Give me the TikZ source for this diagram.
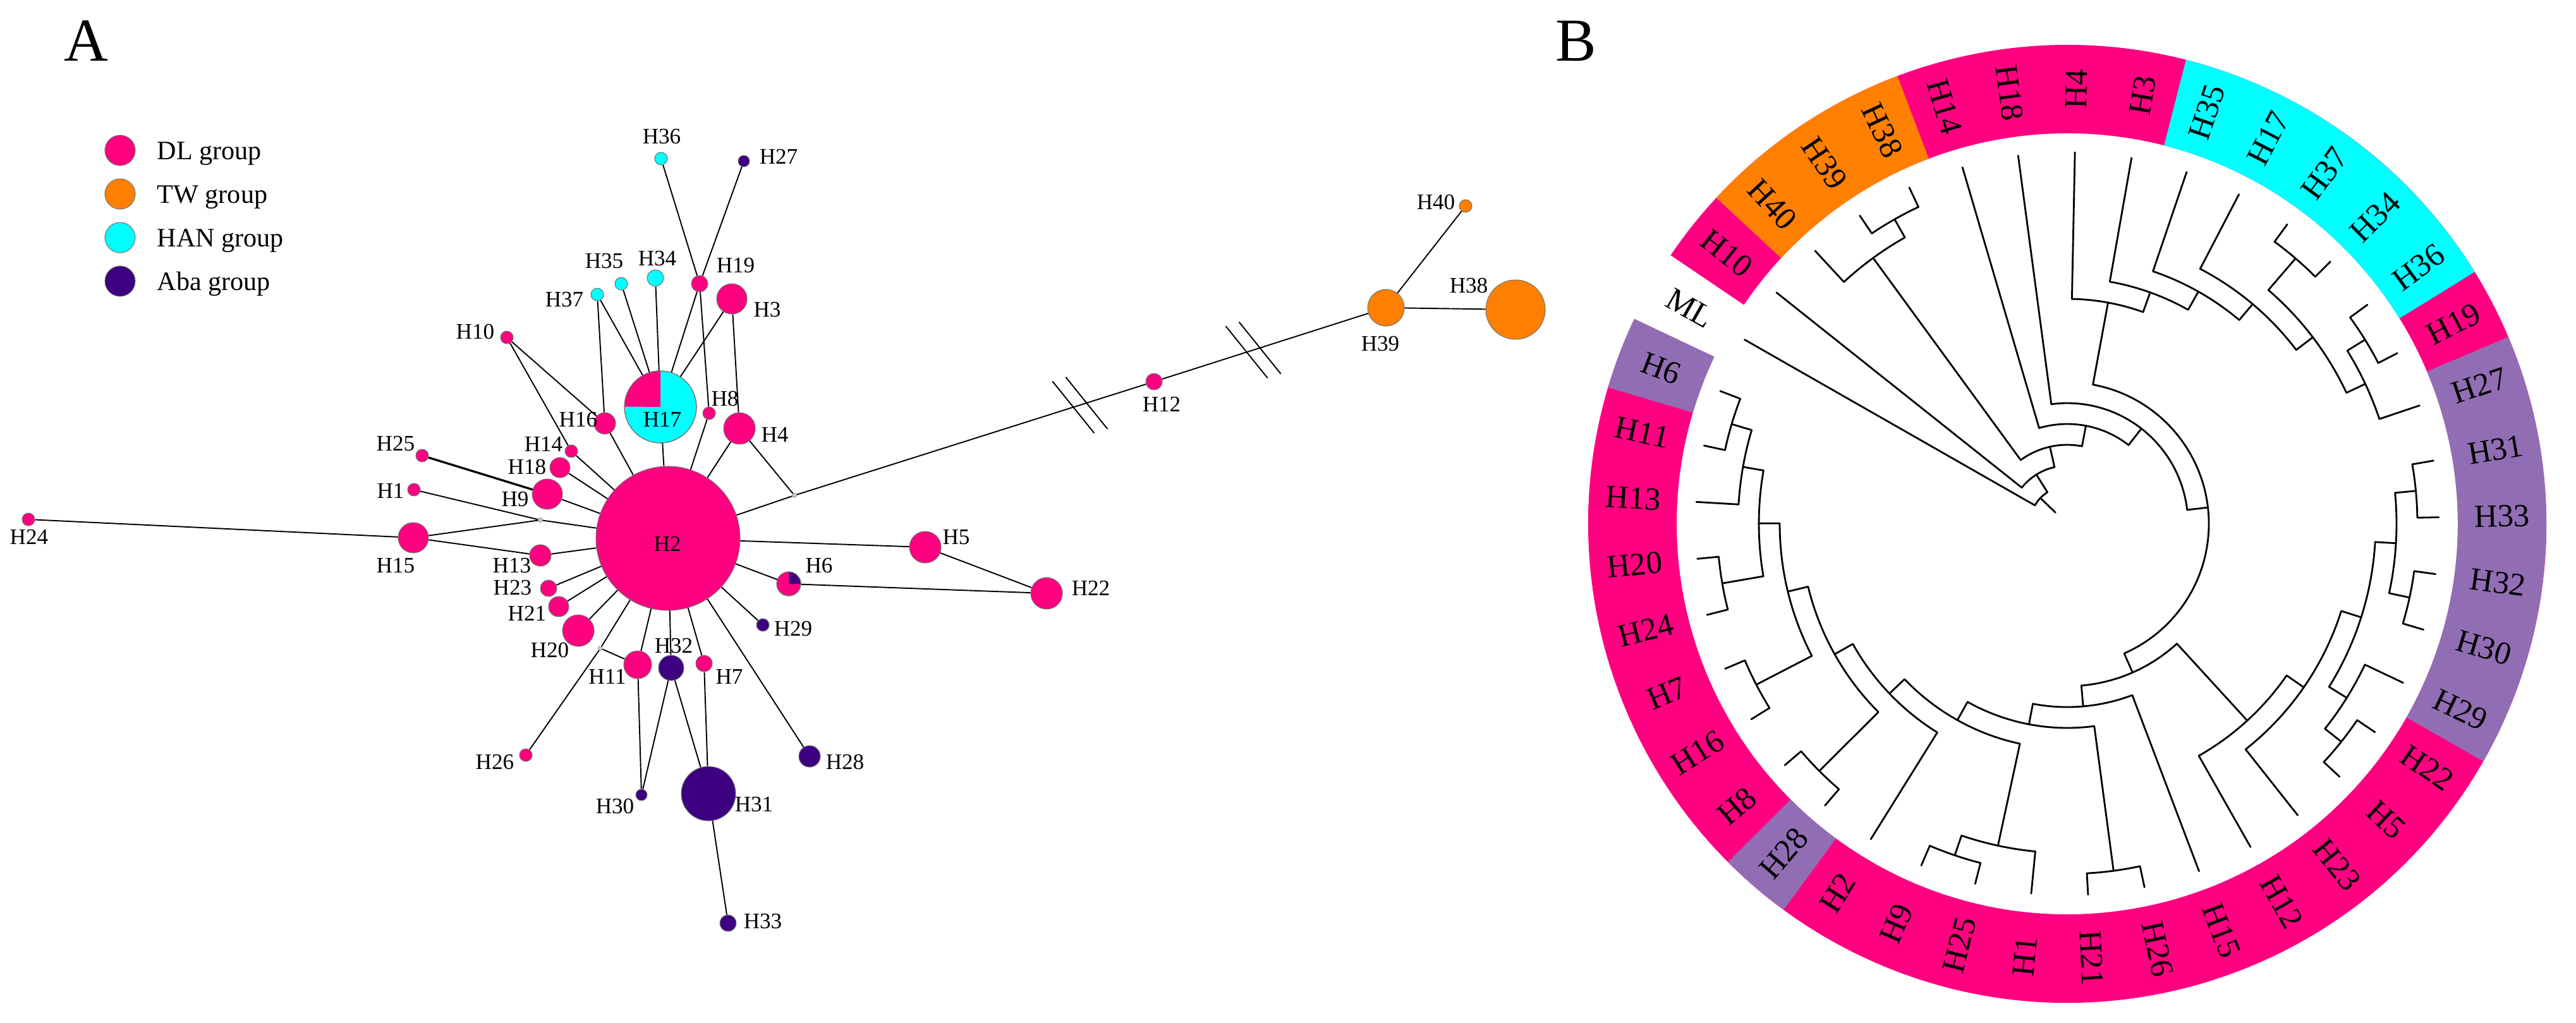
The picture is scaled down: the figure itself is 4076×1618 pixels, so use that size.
\documentclass[tikz,border=0pt]{standalone}
\usepackage{fontspec}
\setmainfont{Liberation Serif}
\usetikzlibrary{calc}
\definecolor{dl}{RGB}{255,0,128}
\definecolor{tw}{RGB}{255,128,0}
\definecolor{han}{RGB}{0,255,255}
\definecolor{aba}{RGB}{60,0,128}
\definecolor{ringpurple}{RGB}{145,110,180}
% ring sector: colour, start angle, end angle
\newcommand\ringsec[3]{\fill[#1] (#2:61.8mm) -- (#2:75.8mm) arc[start angle=#2,end angle=#3,radius=75.8mm] -- (#3:61.8mm) arc[start angle=#3,end angle=#2,radius=61.8mm] -- cycle;}
% tip branch: angle, parent radius
\newcommand\ttip[2]{\draw[treeline] (#1:#2mm) -- (#1:58.8mm);}
% internal node: angle, radius, parent radius, arc start, arc end
\newcommand\tnode[5]{\draw[treeline] (#1:#3mm) -- (#1:#2mm);\draw[treeline] (#4:#2mm) arc[start angle=#4,end angle=#5,radius=#2mm];}
\begin{document}
\begin{tikzpicture}[x=0.1mm,y=-0.1mm,
  hap/.style={circle,inner sep=0pt,draw=black!55,line width=0.3pt},
  junc/.style={circle,inner sep=0pt,minimum size=0.7mm,fill=gray!40,draw=gray,line width=0.2pt},
  lab/.style={font=\fontsize{10}{12}\selectfont,inner sep=0pt},
  edge/.style={line width=0.55pt,black},
  treeline/.style={line width=0.8pt,line cap=round,black},
  ringlab/.style={font=\fontsize{14.5}{16}\selectfont,inner sep=0pt},
  panel/.style={font=\fontsize{27.5}{30}\selectfont,inner sep=0pt,anchor=base},
  legtext/.style={font=\fontsize{12}{14}\selectfont,inner sep=0pt,anchor=base west}
]
\useasboundingbox (0,0) rectangle (4076,1618);

% ---------------- Panel A ----------------
\node[panel] (labA) at (136,97) {A};
\node[panel] (labB) at (2494,97) {B};

% legend
\node[hap,fill=dl,minimum size=4.8mm] (legDL) at (190,238) {};
\node[hap,fill=tw,minimum size=4.8mm] (legTW) at (190,307) {};
\node[hap,fill=han,minimum size=4.8mm] (legHAN) at (190,376) {};
\node[hap,fill=aba,minimum size=4.8mm] (legABA) at (190,445) {};
\node[legtext] (tDL) at (248,252) {DL group};
\node[legtext] (tTW) at (248,321) {TW group};
\node[legtext] (tHAN) at (248,390) {HAN group};
\node[legtext] (tABA) at (248,459) {Aba group};

% haplotype nodes
\node[hap,fill=han,minimum size=2.0mm] (H36) at (1046,251) {};
\node[hap,fill=aba,minimum size=1.8mm] (H27) at (1177,255) {};
\node[hap,fill=han,minimum size=2.0mm] (H35) at (983,449) {};
\node[hap,fill=han,minimum size=2.6mm] (H34) at (1037,440) {};
\node[hap,fill=han,minimum size=2.0mm] (H37) at (945,466) {};
\node[hap,fill=dl,minimum size=2.6mm] (H19) at (1107,449) {};
\node[hap,fill=dl,minimum size=4.8mm] (H3) at (1158,473) {};
\node[hap,fill=dl,minimum size=2.0mm] (H10) at (802,534) {};
\node[hap,fill=han,minimum size=11.4mm] (H17) at (1045,644) {};
\node[hap,fill=dl,minimum size=2.0mm] (H8) at (1122,654) {};
\node[hap,fill=dl,minimum size=3.4mm] (H16) at (957,670) {};
\node[hap,fill=dl,minimum size=5.0mm] (H4) at (1170,678) {};
\node[hap,fill=dl,minimum size=2.0mm] (H25) at (668,721) {};
\node[hap,fill=dl,minimum size=2.0mm] (H14) at (904,714) {};
\node[hap,fill=dl,minimum size=3.2mm] (H18) at (886,740) {};
\node[hap,fill=dl,minimum size=2.0mm] (H1) at (655,775) {};
\node[hap,fill=dl,minimum size=4.8mm] (H9) at (866,782) {};
\node[hap,fill=dl,minimum size=22.8mm] (H2) at (1057,852) {};
\node[hap,fill=dl,minimum size=2.0mm] (H24) at (45,822) {};
\node[hap,fill=dl,minimum size=4.8mm] (H15) at (654,851) {};
\node[hap,fill=dl,minimum size=3.4mm] (H13) at (855,879) {};
\node[hap,fill=dl,minimum size=3.8mm] (H6) at (1248,924) {};
\node[hap,fill=dl,minimum size=2.6mm] (H23) at (868,931) {};
\node[hap,fill=dl,minimum size=3.2mm] (H21) at (884,960) {};
\node[hap,fill=aba,minimum size=2.0mm] (H29) at (1207,989) {};
\node[hap,fill=dl,minimum size=5.0mm] (H20) at (915,998) {};
\node[hap,fill=dl,minimum size=4.4mm] (H11) at (1009,1052) {};
\node[hap,fill=aba,minimum size=4.0mm] (H32) at (1062,1057) {};
\node[hap,fill=dl,minimum size=2.6mm] (H7) at (1114,1050) {};
\node[hap,fill=dl,minimum size=2.0mm] (H26) at (832,1195) {};
\node[hap,fill=aba,minimum size=3.4mm] (H28) at (1281,1197) {};
\node[hap,fill=aba,minimum size=1.8mm] (H30) at (1015,1258) {};
\node[hap,fill=aba,minimum size=8.6mm] (H31) at (1121,1256) {};
\node[hap,fill=aba,minimum size=2.6mm] (H33) at (1152,1461) {};
\node[hap,fill=dl,minimum size=5.0mm] (H5) at (1464,866) {};
\node[hap,fill=dl,minimum size=5.0mm] (H22) at (1656,939) {};
\node[hap,fill=dl,minimum size=2.6mm] (H12) at (1826,604) {};
\node[hap,fill=tw,minimum size=5.8mm] (H39) at (2193,487) {};
\node[hap,fill=tw,minimum size=9.4mm] (H38) at (2398,490) {};
\node[hap,fill=tw,minimum size=2.0mm] (H40) at (2319,326) {};
\node[junc] (J1) at (1257,784) {};
\node[junc] (J2) at (855,823) {};
\node[junc] (J3) at (950,1026) {};

% pie sectors
\fill[dl] (H17.center) -- (H17.north) arc[start angle=90,end angle=180,radius=5.7mm] -- cycle;
\draw[black!55,line width=0.3pt] (H17.center) circle[radius=5.7mm];
\fill[aba] (H6.center) -- (H6.east) arc[start angle=0,end angle=90,radius=1.9mm] -- cycle;
\draw[black!55,line width=0.3pt] (H6.center) circle[radius=1.9mm];

% connectors
\foreach \a/\b in {H36/H19,H27/H19,H19/H17,H19/H8,H3/H17,H3/H4,H34/H17,H35/H17,H37/H17,H37/H16,
  H10/H16,H10/H14,H14/H2,H16/H2,H17/H2,H8/H2,H4/H2,H4/J1,J1/H2,J1/H12,H12/H39,H39/H38,H39/H40,
  H18/H2,H9/H2,H1/J2,J2/H2,J2/H15,H15/H24,H15/H13,H13/H2,H23/H2,H21/H2,H20/H2,
  H26/J3,J3/H2,J3/H11,H11/H2,H11/H30,H32/H2,H32/H30,H32/H31,H7/H2,H7/H31,H28/H2,H29/H2,
  H6/H2,H6/H22,H2/H5,H5/H22,H31/H33}
  {\draw[edge] (\a) -- (\b);}
\draw[edge,line width=0.95pt] (H25) -- (H9);

% break marks
\coordinate (brk1) at ($(J1)!0.794!(H12)$);
\coordinate (brk2) at ($(H12)!0.428!(H39)$);
\foreach \c in {brk1,brk2}{
  \draw[edge] ($(\c)+(-10.5,3.3)+(-33,-41)$) -- ++(66,82);
  \draw[edge] ($(\c)+(10.5,-3.3)+(-33,-41)$) -- ++(66,82);
}

% node labels
\foreach \n/\x/\y in {H36/1047/216,H27/1232/248,H35/956/413,H34/1040/409,H19/1164/420,H37/893/474,
  H3/1214/490,H10/752/525,H8/1147/631,H16/915/664,H17/1048/664,H4/1226/688,H25/626/702,
  H14/860/703,H18/834/739,H1/618/777,H9/815/790,H2/1056/861,H24/46/850,H15/626/895,H13/810/895,
  H6/1296/895,H23/811/930,H21/834/971,H29/1255/995,H20/870/1029,H32/1066/1022,H11/961/1071,
  H7/1154/1071,H26/783/1206,H30/973/1276,H31/1193/1273,H28/1337/1206,H33/1207/1458,
  H12/1838/640,H39/2184/544,H38/2324/452,H40/2272/320,H5/1513/850,H22/1726/931}
  {\node[lab] (l\n) at (\x,\y) {\n};}

% ---------------- Panel B ----------------
\begin{scope}[shift={(3271,829)}]
  \ringsec{dl}{-205.33}{145.89}
  \ringsec{tw}{110.77}{137.11}
  \ringsec{han}{31.74}{75.65}
  \ringsec{ringpurple}{-29.72}{22.96}
  \ringsec{ringpurple}{-135.09}{-126.31}
  \ringsec{ringpurple}{-205.33}{-196.55}
  \foreach \k/\n in {0/H10,1/H40,2/H39,3/H38,4/H14,5/H18,6/H4,7/H3,8/H35,9/H17,10/H37,11/H34,
    12/H36,13/H19,14/H27,15/H31,16/H33,17/H32,18/H30,19/H29,20/H22,21/H5,22/H23,23/H12,24/H15,
    25/H26,26/H21,27/H1,28/H25,29/H9,30/H2,31/H28,32/H8,33/H16,34/H7,35/H24,36/H20,37/H13,
    38/H11,39/H6,40/ML}{
    \pgfmathsetmacro\ang{141.5-8.7805*\k}
    \pgfmathsetmacro\rot{cos(\ang)<0 ? \ang-180 : \ang}
    \node[ringlab,rotate=\rot] (rl\k) at (\ang:68.8mm) {\n};
  }
  % tips
  \ttip{141.50}{9.2}\ttip{132.72}{52.1}\ttip{123.94}{55.4}\ttip{115.16}{55.4}
  \ttip{106.38}{15.8}\ttip{97.60}{19.1}\ttip{88.82}{35.6}\ttip{80.04}{38.9}
  \ttip{71.26}{42.2}\ttip{62.48}{45.5}\ttip{53.70}{55.4}\ttip{44.91}{55.4}
  \ttip{36.13}{55.4}\ttip{27.35}{55.4}\ttip{18.57}{52.1}\ttip{9.79}{55.4}
  \ttip{1.01}{55.4}\ttip{-7.77}{55.4}\ttip{-16.55}{55.4}\ttip{-25.33}{52.1}
  \ttip{-34.11}{55.4}\ttip{-42.89}{55.4}\ttip{-51.67}{45.5}\ttip{-60.45}{42.2}
  \ttip{-69.23}{29.0}\ttip{-78.01}{55.4}\ttip{-86.79}{55.4}\ttip{-95.57}{52.1}
  \ttip{-104.35}{55.4}\ttip{-113.13}{55.4}\ttip{-121.92}{38.9}\ttip{-130.70}{55.4}
  \ttip{-139.48}{55.4}\ttip{-148.26}{55.4}\ttip{-157.04}{55.4}\ttip{-165.82}{55.4}
  \ttip{-174.60}{55.4}\ttip{-183.38}{52.1}\ttip{-192.16}{55.4}\ttip{-200.94}{55.4}
  \ttip{-209.72}{5.9}
  % internal nodes
  \tnode{119.55}{55.4}{52.1}{123.94}{115.16}
  \tnode{126.135}{52.1}{12.5}{132.72}{119.55}
  \tnode{31.74}{55.4}{52.1}{36.13}{27.35}
  \tnode{25.155}{52.1}{48.8}{31.74}{18.57}
  \tnode{49.305}{55.4}{48.8}{53.70}{44.91}
  \tnode{37.23}{48.8}{45.5}{49.305}{25.155}
  \tnode{49.855}{45.5}{42.2}{62.48}{37.23}
  \tnode{60.5575}{42.2}{38.9}{71.26}{49.855}
  \tnode{70.30}{38.9}{35.6}{80.04}{60.5575}
  \tnode{79.56}{35.6}{22.4}{88.82}{70.30}
  \tnode{5.40}{55.4}{52.1}{9.79}{1.01}
  \tnode{-12.16}{55.4}{52.1}{-7.77}{-16.55}
  \tnode{-3.38}{52.1}{48.8}{5.40}{-12.16}
  \tnode{-38.5}{55.4}{52.1}{-34.11}{-42.89}
  \tnode{-31.915}{52.1}{48.8}{-25.33}{-38.5}
  \tnode{-17.65}{48.8}{45.5}{-3.38}{-31.915}
  \tnode{-34.66}{45.5}{42.2}{-17.65}{-51.67}
  \tnode{-47.555}{42.2}{25.7}{-34.66}{-60.45}
  \tnode{-82.4}{55.4}{32.3}{-78.01}{-86.79}
  \tnode{-108.74}{55.4}{52.1}{-104.35}{-113.13}
  \tnode{-102.155}{52.1}{35.6}{-95.57}{-108.74}
  \tnode{-135.09}{55.4}{42.2}{-130.70}{-139.48}
  \tnode{-152.65}{55.4}{45.5}{-148.26}{-157.04}
  \tnode{-170.21}{55.4}{48.8}{-165.82}{-174.60}
  \tnode{-196.55}{55.4}{52.1}{-192.16}{-200.94}
  \tnode{-189.965}{52.1}{48.8}{-183.38}{-196.55}
  \tnode{-180.09}{48.8}{45.5}{-170.21}{-189.965}
  \tnode{-166.37}{45.5}{42.2}{-152.65}{-180.09}
  \tnode{-150.73}{42.2}{38.9}{-135.09}{-166.37}
  \tnode{-136.325}{38.9}{35.6}{-121.92}{-150.73}
  \tnode{-119.24}{35.6}{32.3}{-102.155}{-136.325}
  \tnode{-100.82}{32.3}{29.0}{-82.4}{-119.24}
  \tnode{-85.025}{29.0}{25.7}{-69.23}{-100.82}
  \tnode{-66.29}{25.7}{22.4}{-47.555}{-85.025}
  \tnode{6.635}{22.4}{19.1}{79.56}{-66.29}
  \tnode{52.12}{19.1}{15.8}{97.60}{6.635}
  \tnode{79.25}{15.8}{12.5}{106.38}{52.12}
  \tnode{102.69}{12.5}{9.2}{126.135}{79.25}
  \tnode{122.10}{9.2}{5.9}{141.5}{102.69}
  \tnode{136.19}{5.9}{2.6}{150.28}{122.10}
\end{scope}
\end{tikzpicture}
\end{document}
